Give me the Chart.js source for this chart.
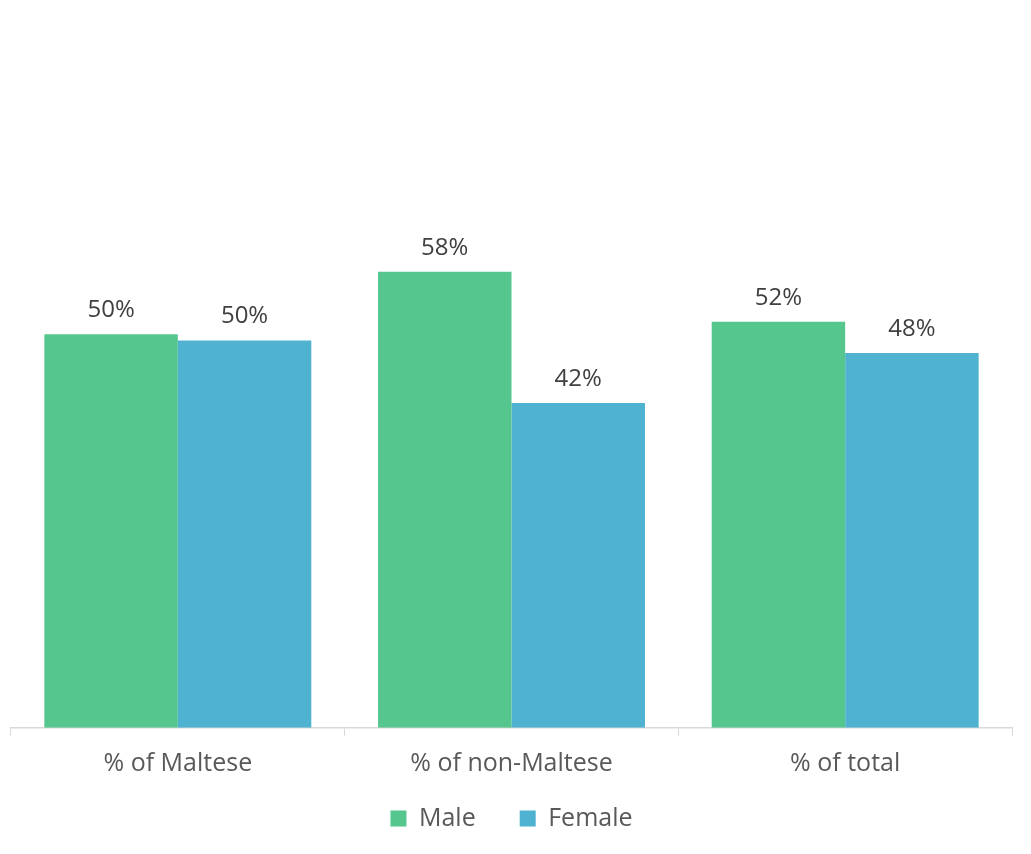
<!DOCTYPE html>
<html>
<head>
<meta charset="utf-8">
<script src="https://cdn.jsdelivr.net/npm/chart.js@4.4.1/dist/chart.umd.min.js"></script>
<style>
  html, body { margin: 0; padding: 0; background: #fff; }
  #wrap { width: 1031px; height: 854px; }
</style>
</head>
<body>
<div id="wrap"><canvas id="myChart"></canvas></div>
<script>
// values
const categories = ['% of Maltese', '% of non-Maltese', '% of total']
const maleValues = [0.504, 0.584, 0.52]
const femaleValues = [0.496, 0.416, 0.48]
const seriesNames = ['Male', 'Female']

const fontFamily = "'Open Sans', 'Noto Sans', sans-serif"

// draws the % numbers above each bar
const barLabels = {
    id: 'barLabels',
    afterDatasetsDraw(chart) {
        const ctx = chart.ctx
        ctx.save()
        ctx.font = '24px ' + fontFamily
        ctx.fillStyle = '#404040'
        ctx.textAlign = 'center'
        ctx.textBaseline = 'alphabetic'
        chart.data.datasets.forEach((ds, i) => {
            chart.getDatasetMeta(i).data.forEach((bar, j) => {
                ctx.fillText(Math.round(ds.data[j] * 100) + '%', bar.x, bar.y - 17)
            })
        })
        ctx.restore()
    }
}

new Chart(document.getElementById('myChart'), {
    type: 'bar',
    data: {
        labels: categories,
        datasets: [{
            label: seriesNames[0],
            data: maleValues,
            backgroundColor: '#55c78e',
            categoryPercentage: 0.8,
            barPercentage: 1.0
        }, {
            label: seriesNames[1],
            data: femaleValues,
            backgroundColor: '#4fb2d0',
            categoryPercentage: 0.8,
            barPercentage: 1.0
        }]
    },
    options: {
        responsive: true,
        maintainAspectRatio: false,
        animation: false,
        layout: { padding: { top: 25, left: 11, right: 19, bottom: 13 } },
        plugins: {
            legend: {
                position: 'bottom',
                // empty title with negative padding: pulls the legend up so the
                // wide item gap doesn't push it too far down
                title: { display: true, text: '', font: { size: 1 }, padding: -15.5 },
                labels: {
                    color: '#595959',
                    font: { family: fontFamily, size: 25 },
                    boxWidth: 16,
                    boxHeight: 16,
                    padding: 44
                }
            },
            tooltip: { enabled: false }
        },
        scales: {
            x: {
                grid: {
                    offset: true,
                    drawOnChartArea: false,
                    color: '#d9d9d9',
                    tickLength: 8
                },
                border: { color: '#d9d9d9', width: 1.5 },
                ticks: {
                    color: '#595959',
                    font: { family: fontFamily, size: 25 },
                    padding: 13
                }
            },
            y: {
                display: false,
                min: 0,
                max: 0.9
            }
        }
    },
    plugins: [barLabels]
})
</script>
</body>
</html>
